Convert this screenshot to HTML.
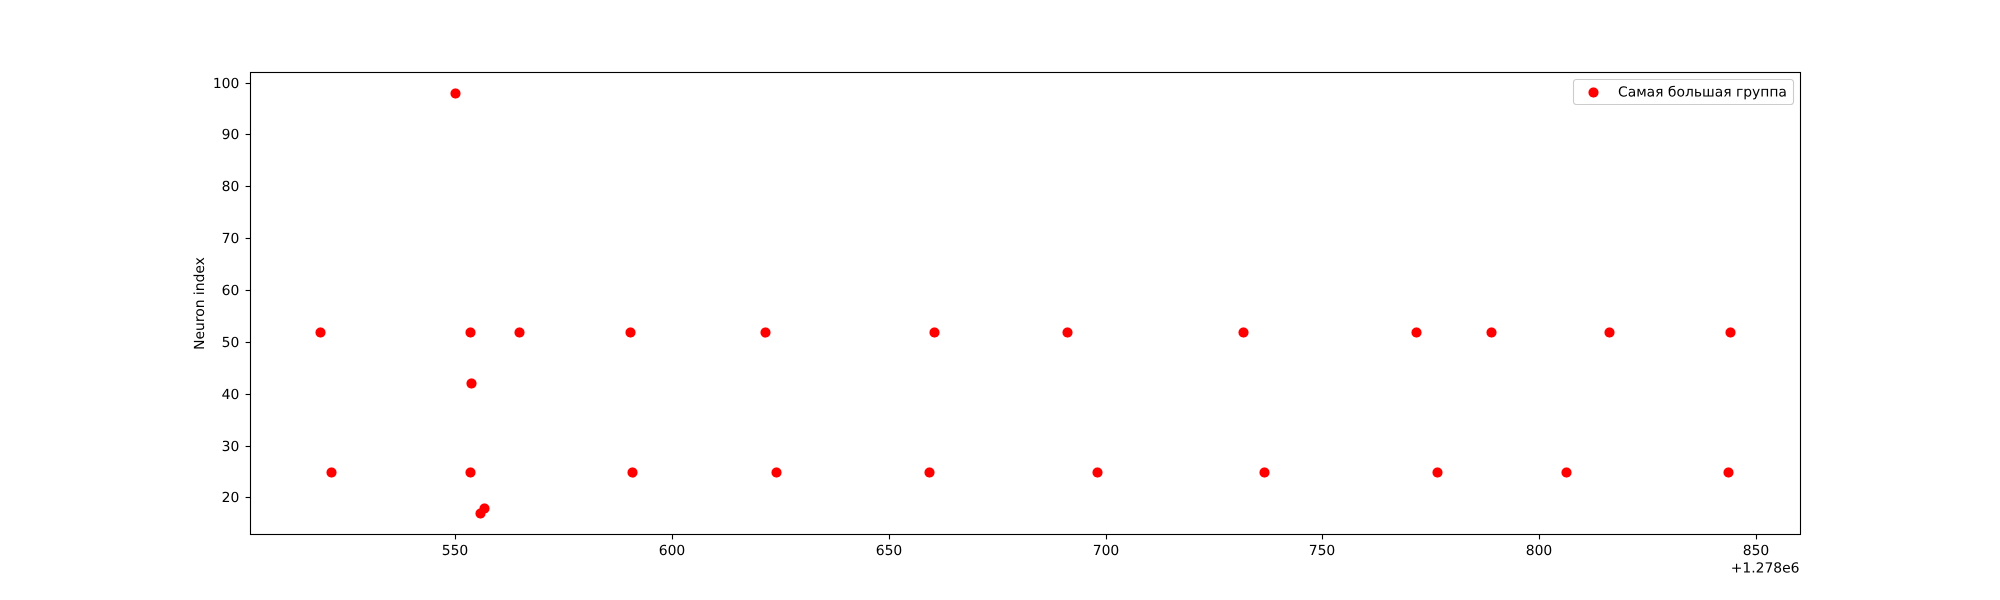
<!DOCTYPE html>
<html lang="ru">
<head>
<meta charset="utf-8">
<title>Самая большая группа</title>
<style>
html,body{margin:0;padding:0;background:#fff;width:2000px;height:600px;overflow:hidden}
svg{display:block}
text{font-family:"DejaVu Sans","Liberation Sans",sans-serif;font-size:13.89px;fill:#000;text-rendering:geometricPrecision}
</style>
</head>
<body>
<svg id="chart" xmlns="http://www.w3.org/2000/svg" width="2000" height="600" viewBox="0 0 2000 600">
<rect x="0" y="0" width="2000" height="600" fill="#fff"/>
<g id="points"></g>
<g id="xticks"></g>
<g id="yticks"></g>
<rect x="250.5" y="72.5" width="1550" height="462" fill="none" stroke="#000" stroke-width="1.11"/>
<text x="1799.5" y="572.5" text-anchor="end">+1.278e6</text>
<text transform="translate(204,303.5) rotate(-90)" text-anchor="middle">Neuron index</text>
<g>
<rect x="1573.5" y="79.5" width="220" height="25" rx="2.8" ry="2.8" fill="#fff" fill-opacity="0.8" stroke="#ccc" stroke-width="1.11"/>
<circle cx="1593.5" cy="92.5" r="5.1" fill="#f00"/>
<text x="1618" y="96.5">Самая большая группа</text>
</g>
</svg>
<script>
const xTickValues = [550, 600, 650, 700, 750, 800, 850];
const yTickValues = [20, 30, 40, 50, 60, 70, 80, 90, 100];
const xTickLabels = ['550', '600', '650', '700', '750', '800', '850'];
const yTickLabels = ['20', '30', '40', '50', '60', '70', '80', '90', '100'];

const spikeTimes = [
  518.79, 553.39, 564.69, 590.30, 621.44, 660.43, 691.11, 731.71, 771.61, 788.92, 816.14, 844.05,
  521.33, 553.39, 590.76, 623.98, 659.27, 698.03, 736.55, 776.46, 806.22, 843.59,
  550, 553.62, 555.70, 556.62
];
const neuronIndices = [
  52, 52, 52, 52, 52, 52, 52, 52, 52, 52, 52, 52,
  25, 25, 25, 25, 25, 25, 25, 25, 25, 25,
  98, 42, 17, 18
];

const xDomainMin = 502.53;
const xDomainMax = 860.09;
const yDomainMin = 12.95;
const yDomainMax = 102.05;

const SVG_NS = 'http://www.w3.org/2000/svg';

function xScale(v) {
  return 250 + (v - xDomainMin) / (xDomainMax - xDomainMin) * 1550;
}
function yScale(v) {
  return 534 - (v - yDomainMin) / (yDomainMax - yDomainMin) * 462;
}
function snapX(p) {
  return Math.floor(p) + 0.5;
}
function snapY(p) {
  return Math.round(p) + 0.5;
}

const pointsGroup = document.getElementById('points');
spikeTimes.forEach(function (t, i) {
  const c = document.createElementNS(SVG_NS, 'circle');
  
  
  c.setAttribute('cx', snapX(xScale(t)));
  c.setAttribute('cy', snapY(yScale(neuronIndices[i])));
  c.setAttribute('r', 5.1);
  c.setAttribute('fill', '#f00');
  pointsGroup.appendChild(c);
});

const xTicksGroup = document.getElementById('xticks');
xTickValues.forEach(function (v, i) {
  const px = snapX(xScale(v));
  const tick = document.createElementNS(SVG_NS, 'line');
  
  
  tick.setAttribute('x1', px);
  tick.setAttribute('x2', px);
  tick.setAttribute('y1', 534.5);
  tick.setAttribute('y2', 539.4);
  tick.setAttribute('stroke', '#000');
  tick.setAttribute('stroke-width', 1.11);
  xTicksGroup.appendChild(tick);
  const label = document.createElementNS(SVG_NS, 'text');
  
  
  label.setAttribute('x', px - 0.5);
  label.setAttribute('y', 555);
  label.setAttribute('text-anchor', 'middle');
  label.textContent = xTickLabels[i];
  xTicksGroup.appendChild(label);
});

const yTicksGroup = document.getElementById('yticks');
yTickValues.forEach(function (v, i) {
  const py = snapY(yScale(v));
  const tick = document.createElementNS(SVG_NS, 'line');
  
  
  tick.setAttribute('x1', 245.6);
  tick.setAttribute('x2', 250.5);
  tick.setAttribute('y1', py);
  tick.setAttribute('y2', py);
  tick.setAttribute('stroke', '#000');
  tick.setAttribute('stroke-width', 1.11);
  yTicksGroup.appendChild(tick);
  const label = document.createElementNS(SVG_NS, 'text');
  
  
  label.setAttribute('x', 239.3);
  label.setAttribute('y', py + 4.5);
  label.setAttribute('text-anchor', 'end');
  label.textContent = yTickLabels[i];
  yTicksGroup.appendChild(label);
});
</script>
</body>
</html>
